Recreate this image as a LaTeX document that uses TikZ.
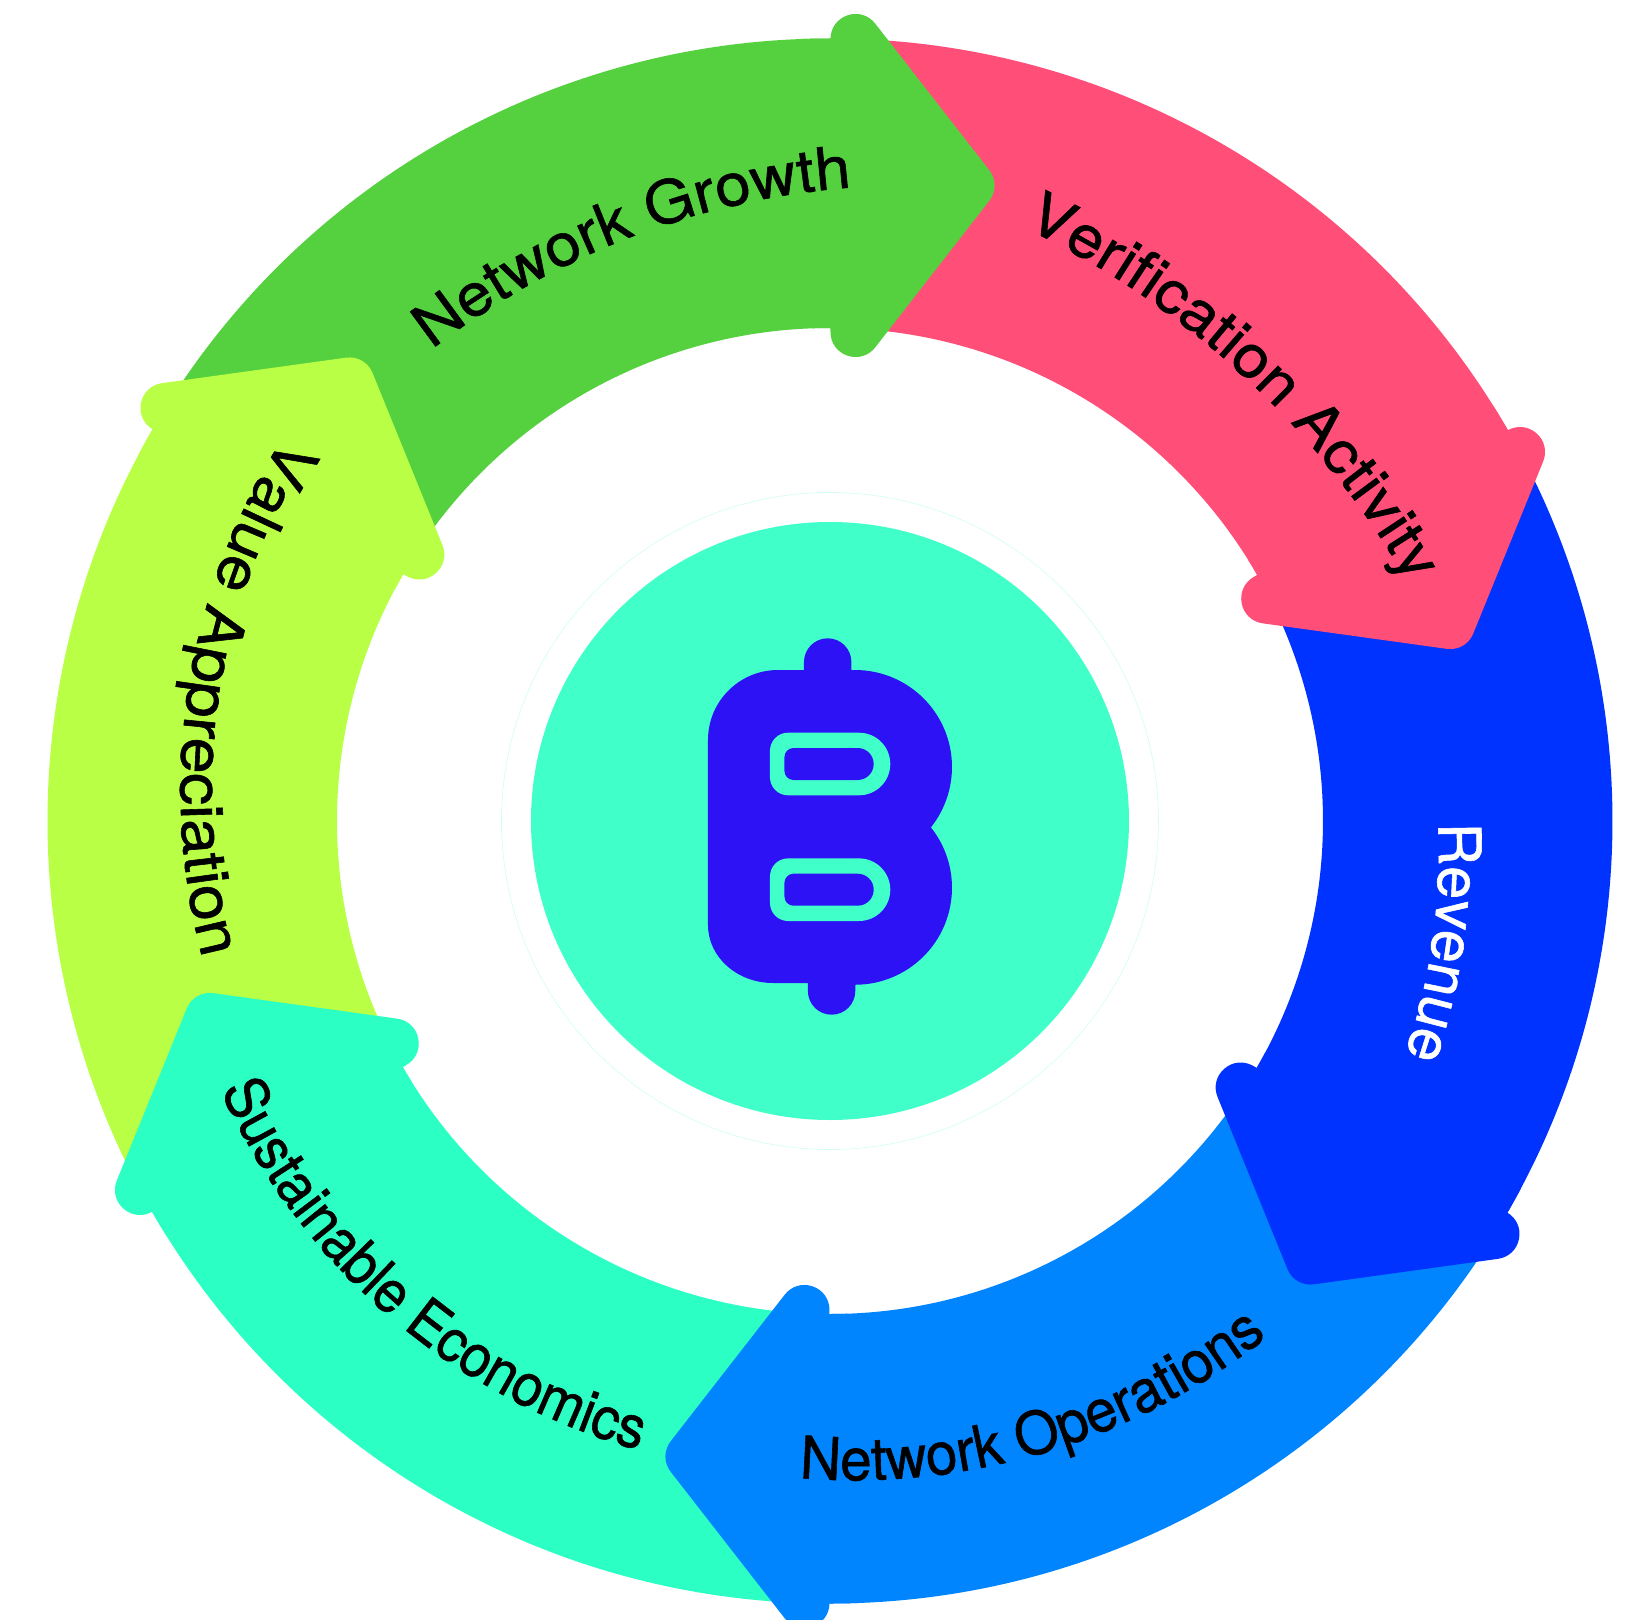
\documentclass[tikz,border=0pt]{standalone}
\usepackage{fontspec}
\usetikzlibrary{decorations.text}
\newfontface\lblface[FakeBold=1]{TeX Gyre Heros}

\definecolor{growthgreen}{HTML}{55D13F}
\definecolor{verifypink}{HTML}{FF4F78}
\definecolor{revenueblue}{HTML}{0033FF}
\definecolor{opsblue}{HTML}{0085FF}
\definecolor{econteal}{HTML}{2CFFC4}
\definecolor{valuelime}{HTML}{B8FF45}
\definecolor{coinmint}{HTML}{40FFC8}
\definecolor{coinink}{HTML}{2D12F5}

\newcommand{\lblfont}[1]{\lblface\addfontfeature{FakeStretch=#1}\fontsize{29.5}{30}\selectfont}

\tikzset{
    ringlabel/.style args={#1/#2/#3}{
        decorate, decoration={text along path, text align=center,
            text color=#2, text={|\lblfont{#3}|#1}}
    },
    arrowhead/.style={fill=#1, draw=#1, line width=25pt, line join=round}
}

\begin{document}
\begin{tikzpicture}[x=0.5pt, y=0.5pt]
    \useasboundingbox (-830, -798) rectangle (810, 821);
    \clip (-830, -798) rectangle (810, 821);
    \fill[white] (-830, -798) rectangle (810, 821);

    % ring bodies
    \foreach \a/\col in {90/verifypink, 30/revenueblue, -30/opsblue, -90/econteal, -150/valuelime, 150/growthgreen} {
        \fill[\col] (\a:782.5) arc[start angle=\a, end angle=\a-60, radius=782.5]
            -- (\a-60:493) arc[start angle=\a-60, end angle=\a, radius=493] -- cycle;
    }

    % heads go over the next body, the patch hides the seam
    \foreach \a/\col in {0/growthgreen, -60/verifypink, -120/revenueblue, -180/opsblue, -240/econteal, -300/valuelime} {
        \begin{scope}[rotate=\a]
            \fill[\col] (92:782.5) arc[start angle=92, end angle=88, radius=782.5]
                -- (88:493) arc[start angle=88, end angle=92, radius=493] -- cycle;
            \path[arrowhead=\col] (25.5, 782) -- (139.5, 635.5) -- (25.5, 489) -- cycle;
        \end{scope}
    }

    % labels
    \path[ringlabel={Network Growth/black/1.08}, shift={(80, -142.3)}] (131.1:778) arc[start angle=131.1, end angle=91.1, radius=778];
    \path[ringlabel={Verification Activity/black/1.075}, shift={(-180.6, -197.3)}] (66.9:875) arc[start angle=66.9, end angle=27.5, radius=875];
    \path[ringlabel={Revenue/white/1}, shift={(-7, -33)}] (6.8:615.7) arc[start angle=6.8, end angle=-23, radius=615.7];
    \path[ringlabel={Network Operations/black/0.96}, shift={(23.7, 8.8)}] (261.6:668) arc[start angle=261.6, end angle=312, radius=668];
    \path[ringlabel={Sustainable Economics/black/0.93}, shift={(-17.8, -4.5)}] (197.3:648) arc[start angle=197.3, end angle=261.3, radius=648];
    \path[ringlabel={Value Appreciation/black/1.1}, shift={(7.6, 31)}] (143.1:657) arc[start angle=143.1, end angle=199.1, radius=657];

    % coin
    \draw[coinmint!25, line width=0.3pt] (0, 0) circle (328.5);
    \fill[coinmint] (0, 0) circle (299);
    \fill[coinink] (-122, 81) arc[start angle=180, end angle=90, radius=70]
        -- (-26, 151) -- (-26, 159) arc[start angle=180, end angle=0, radius=23.7]
        -- (21.4, 151) -- (25, 151)
        arc[start angle=90, end angle=-38.5, radius=97]
        arc[start angle=38.5, end angle=-90, radius=97]
        -- (25.3, -162) -- (25.3, -170) arc[start angle=0, end angle=-180, radius=23.7]
        -- (-22, -162) -- (-57, -162)
        arc[start angle=-90, end angle=-180, x radius=65, y radius=58] -- cycle;
    \foreach \y in {0, -125.7} {
        \begin{scope}[yshift=\y*0.5pt]
            \fill[coinmint] (-42, 88.3) -- (29, 88.3) arc[start angle=90, end angle=-90, radius=31.3]
                -- (-42, 25.7) arc[start angle=-90, end angle=-180, radius=18]
                -- (-60, 70.3) arc[start angle=180, end angle=90, radius=18];
            \fill[coinink] (-36.5, 73) -- (27.7, 73) arc[start angle=90, end angle=-90, radius=16]
                -- (-36.5, 41) arc[start angle=-90, end angle=-180, radius=9]
                -- (-45.5, 64) arc[start angle=180, end angle=90, radius=9];
        \end{scope}
    }
\end{tikzpicture}
\end{document}
